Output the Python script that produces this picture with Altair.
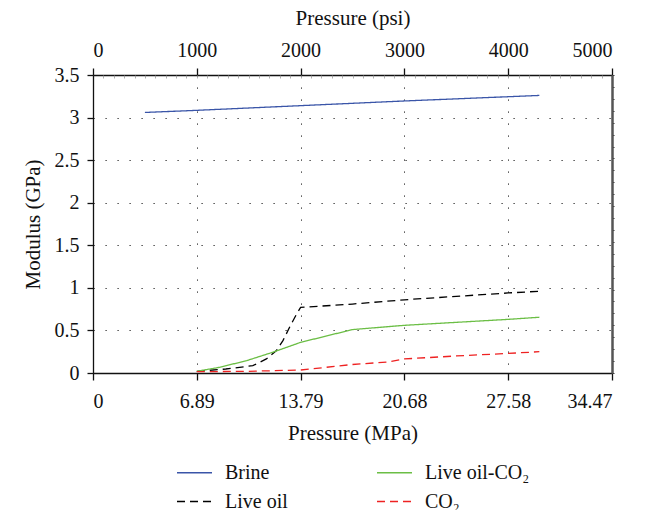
import altair as alt
import pandas as pd

# ---- data ----
series_names = ["Brine", "Live oil", "Live oil-CO₂", "CO₂"]

brine_psi = [500, 1000, 2000, 3000, 4000, 4300]
brine_gpa = [3.06, 3.085, 3.14, 3.195, 3.245, 3.26]

liveoil_psi = [1000, 1280, 1540, 1670, 1765, 1830, 1895, 1960, 2000, 2500, 3000, 3500, 4000, 4300]
liveoil_gpa = [0.02, 0.047, 0.086, 0.165, 0.26, 0.38, 0.54, 0.69, 0.77, 0.81, 0.86, 0.90, 0.94, 0.96]

mix_psi = [1000, 1220, 1480, 1730, 2000, 2500, 3000, 3500, 4000, 4300]
mix_gpa = [0.02, 0.067, 0.145, 0.243, 0.36, 0.51, 0.56, 0.595, 0.63, 0.655]

co2_psi = [1000, 1500, 2000, 2500, 2850, 3000, 3500, 4000, 4300]
co2_gpa = [0.015, 0.02, 0.035, 0.10, 0.13, 0.165, 0.20, 0.23, 0.25]

psi_ticks = [0, 1000, 2000, 3000, 4000, 5000]
mpa_labels = ["0", "6.89", "13.79", "20.68", "27.58", "34.47"]
y_ticks = [0, 0.5, 1, 1.5, 2, 2.5, 3, 3.5]
top_minor = list(range(0, 5001, 100))
right_minor = [round(0.14 * i, 2) for i in range(26)]

rows = []
for name, xs, ys in [
    ("Brine", brine_psi, brine_gpa),
    ("Live oil", liveoil_psi, liveoil_gpa),
    ("Live oil-CO₂", mix_psi, mix_gpa),
    ("CO₂", co2_psi, co2_gpa),
]:
    for i, (x, y) in enumerate(zip(xs, ys)):
        rows.append({"series": name, "psi": x, "gpa": y, "idx": i})
df = pd.DataFrame(rows)

FONT = "Liberation Serif"
W, H = 519, 298
FS = 20
TFS = 21

xscale = alt.Scale(domain=[0, 5000], nice=False, zero=False)
yscale = alt.Scale(domain=[0, 3.5], nice=False)

label_expr = "[" + ",".join("'%s'" % s for s in mpa_labels) + "][round(datum.value/1000)]"

lines = alt.Chart(df).mark_line(strokeWidth=1.3).encode(
    x=alt.X("psi:Q", scale=xscale, axis=alt.Axis(
        orient="bottom", values=psi_ticks, labelExpr=label_expr,
        title="Pressure (MPa)", grid=True, gridDash=[1.2, 10.8], gridColor="#222",
        gridWidth=1, tickSize=7, labelPadding=11, titlePadding=11)),
    y=alt.Y("gpa:Q", scale=yscale, axis=alt.Axis(
        orient="left", values=y_ticks, format="~g", title="Modulus (GPa)", grid=True,
        gridDash=[1.2, 10.8], gridColor="#222", gridWidth=1, tickSize=6,
        labelPadding=8, titlePadding=11)),
    color=alt.Color("series:N", scale=alt.Scale(
        domain=series_names, range=["#3A55A8", "#000000", "#6BBE45", "#EE2222"]),
        legend=alt.Legend(title=None)),
    strokeDash=alt.StrokeDash("series:N", scale=alt.Scale(
        domain=series_names, range=[[1, 0], [8, 5], [1, 0], [8, 5]]),
        legend=alt.Legend(title=None)),
    order="idx:Q",
)

top_axis = alt.Chart(df).mark_point(opacity=0).encode(
    x=alt.X("psi:Q", scale=xscale, axis=alt.Axis(
        orient="top", values=psi_ticks, format="d", title="Pressure (psi)",
        grid=False, tickSize=7, labelPadding=8, titlePadding=12)),
    y=alt.Y("gpa:Q", scale=yscale, axis=None),
)

top_minor_axis = alt.Chart(df).mark_point(opacity=0).encode(
    x=alt.X("psi:Q", scale=xscale, axis=alt.Axis(
        orient="bottom", offset=-H, values=top_minor, labels=False, domain=False,
        grid=False, tickSize=3, tickColor="#999", tickWidth=0.8, title=None)),
    y=alt.Y("gpa:Q", scale=yscale, axis=None),
)

right_axis = alt.Chart(df).mark_point(opacity=0).encode(
    x=alt.X("psi:Q", scale=xscale, axis=None),
    y=alt.Y("gpa:Q", scale=yscale, axis=alt.Axis(
        orient="right", values=right_minor, labels=False, grid=False,
        domainColor="#555", domainWidth=2.5, tickSize=2, tickColor="#333",
        tickWidth=1, title=None)),
)

chart = alt.layer(lines, top_axis, top_minor_axis, right_axis).resolve_axis(
    x="independent", y="independent"
).properties(
    width=W, height=H,
    autosize=alt.AutoSizeParams(type="none"),
    padding={"left": 93, "top": 75, "right": 649 - 93 - W, "bottom": 510 - 75 - H},
).configure_view(stroke=None).configure_axis(
    labelFont=FONT, titleFont=FONT, labelFontSize=FS, titleFontSize=TFS,
    labelColor="#111", titleColor="#111", titleFontWeight="normal",
    domainColor="#111", domainWidth=1.3, tickColor="#111", tickWidth=1.3,
).configure_legend(
    orient="none", legendX=83, legendY=379, columns=2, columnPadding=86,
    rowPadding=-7, labelFont=FONT, labelFontSize=FS, labelColor="#111",
    symbolType="stroke", symbolSize=1225, symbolStrokeWidth=1.3,
    labelOffset=12, padding=0,
)

chart.save("out.html", embed_options={"renderer": "svg", "actions": False})
